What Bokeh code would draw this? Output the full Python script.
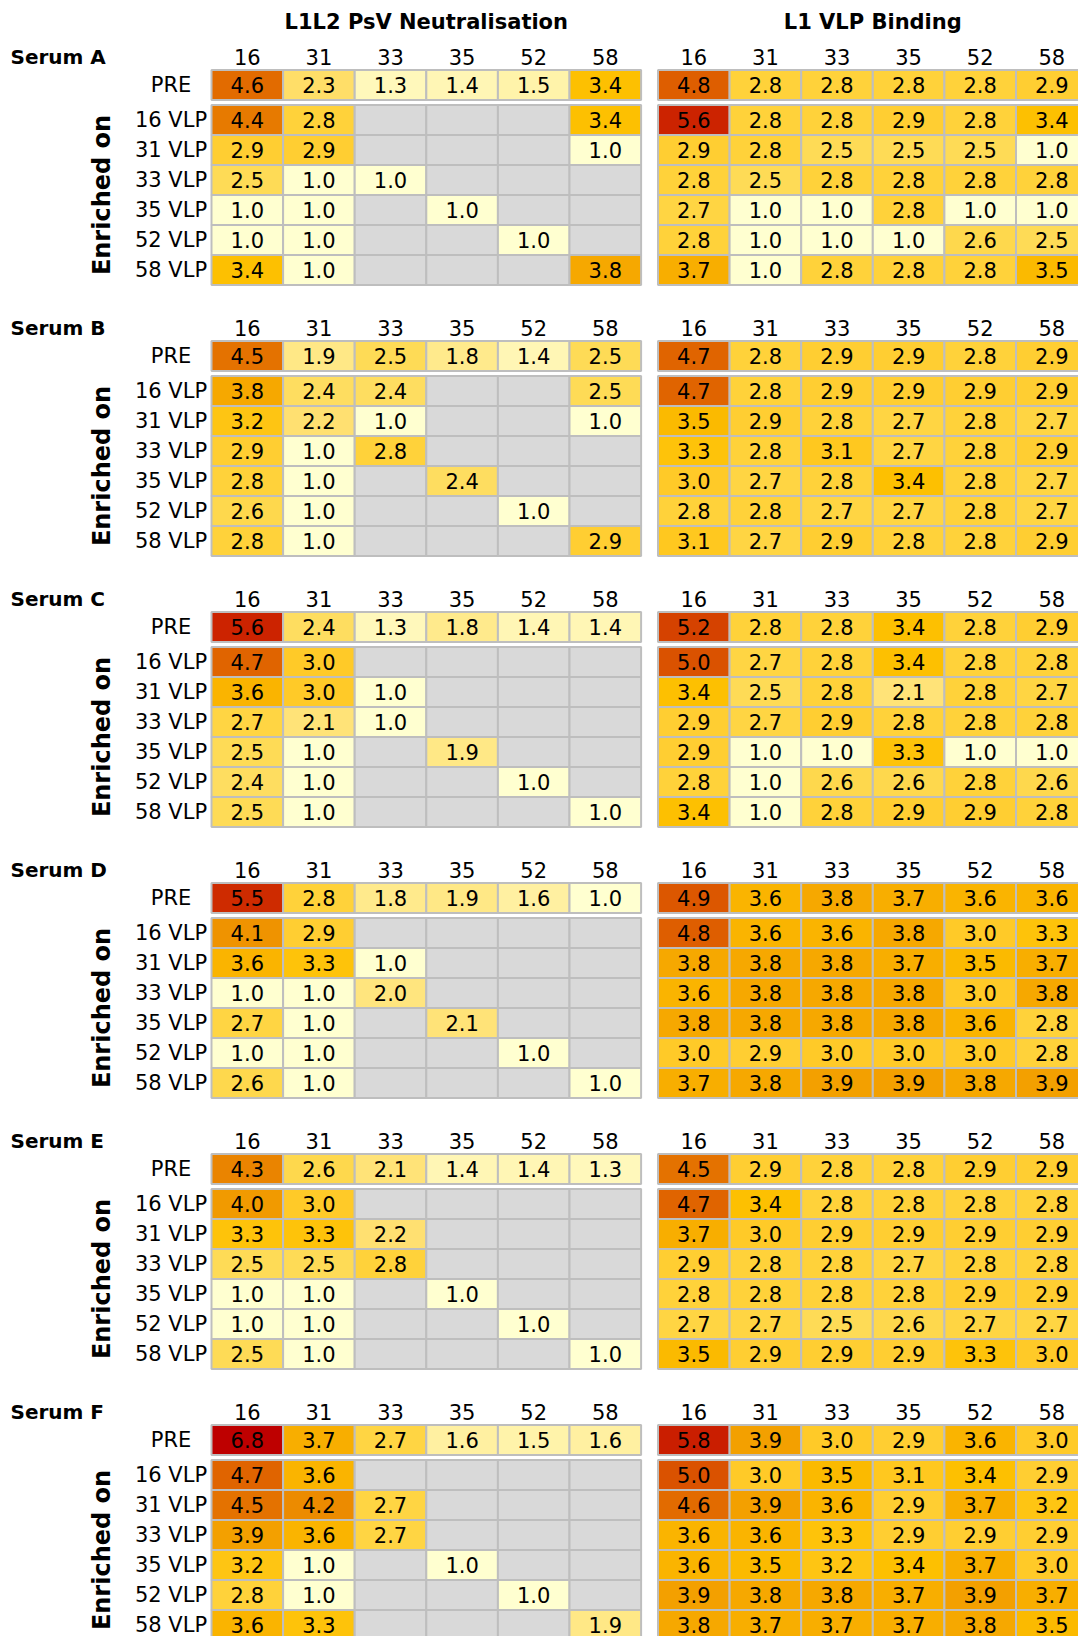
import math
import numpy as np
from bokeh.plotting import figure
from bokeh.models import ColumnDataSource, LinearColorMapper, Range1d
from bokeh.transform import transform
from bokeh.embed import file_html
from bokeh.resources import INLINE
from bokeh.core.properties import value

# ---------------- data ----------------
TYPES = ["16", "31", "33", "35", "52", "58"]
ROWS = ["PRE", "16 VLP", "31 VLP", "33 VLP", "35 VLP", "52 VLP", "58 VLP"]
SERA = ["Serum A", "Serum B", "Serum C", "Serum D", "Serum E", "Serum F"]
PANELS = ["L1L2 PsV Neutralisation", "L1 VLP Binding"]
N = None

NEUT_A = [[4.6, 2.3, 1.3, 1.4, 1.5, 3.4],
          [4.4, 2.8, N, N, N, 3.4],
          [2.9, 2.9, N, N, N, 1.0],
          [2.5, 1.0, 1.0, N, N, N],
          [1.0, 1.0, N, 1.0, N, N],
          [1.0, 1.0, N, N, 1.0, N],
          [3.4, 1.0, N, N, N, 3.8]]
BIND_A = [[4.8, 2.8, 2.8, 2.8, 2.8, 2.9],
          [5.6, 2.8, 2.8, 2.9, 2.8, 3.4],
          [2.9, 2.8, 2.5, 2.5, 2.5, 1.0],
          [2.8, 2.5, 2.8, 2.8, 2.8, 2.8],
          [2.7, 1.0, 1.0, 2.8, 1.0, 1.0],
          [2.8, 1.0, 1.0, 1.0, 2.6, 2.5],
          [3.7, 1.0, 2.8, 2.8, 2.8, 3.5]]
NEUT_B = [[4.5, 1.9, 2.5, 1.8, 1.4, 2.5],
          [3.8, 2.4, 2.4, N, N, 2.5],
          [3.2, 2.2, 1.0, N, N, 1.0],
          [2.9, 1.0, 2.8, N, N, N],
          [2.8, 1.0, N, 2.4, N, N],
          [2.6, 1.0, N, N, 1.0, N],
          [2.8, 1.0, N, N, N, 2.9]]
BIND_B = [[4.7, 2.8, 2.9, 2.9, 2.8, 2.9],
          [4.7, 2.8, 2.9, 2.9, 2.9, 2.9],
          [3.5, 2.9, 2.8, 2.7, 2.8, 2.7],
          [3.3, 2.8, 3.1, 2.7, 2.8, 2.9],
          [3.0, 2.7, 2.8, 3.4, 2.8, 2.7],
          [2.8, 2.8, 2.7, 2.7, 2.8, 2.7],
          [3.1, 2.7, 2.9, 2.8, 2.8, 2.9]]
NEUT_C = [[5.6, 2.4, 1.3, 1.8, 1.4, 1.4],
          [4.7, 3.0, N, N, N, N],
          [3.6, 3.0, 1.0, N, N, N],
          [2.7, 2.1, 1.0, N, N, N],
          [2.5, 1.0, N, 1.9, N, N],
          [2.4, 1.0, N, N, 1.0, N],
          [2.5, 1.0, N, N, N, 1.0]]
BIND_C = [[5.2, 2.8, 2.8, 3.4, 2.8, 2.9],
          [5.0, 2.7, 2.8, 3.4, 2.8, 2.8],
          [3.4, 2.5, 2.8, 2.1, 2.8, 2.7],
          [2.9, 2.7, 2.9, 2.8, 2.8, 2.8],
          [2.9, 1.0, 1.0, 3.3, 1.0, 1.0],
          [2.8, 1.0, 2.6, 2.6, 2.8, 2.6],
          [3.4, 1.0, 2.8, 2.9, 2.9, 2.8]]
NEUT_D = [[5.5, 2.8, 1.8, 1.9, 1.6, 1.0],
          [4.1, 2.9, N, N, N, N],
          [3.6, 3.3, 1.0, N, N, N],
          [1.0, 1.0, 2.0, N, N, N],
          [2.7, 1.0, N, 2.1, N, N],
          [1.0, 1.0, N, N, 1.0, N],
          [2.6, 1.0, N, N, N, 1.0]]
BIND_D = [[4.9, 3.6, 3.8, 3.7, 3.6, 3.6],
          [4.8, 3.6, 3.6, 3.8, 3.0, 3.3],
          [3.8, 3.8, 3.8, 3.7, 3.5, 3.7],
          [3.6, 3.8, 3.8, 3.8, 3.0, 3.8],
          [3.8, 3.8, 3.8, 3.8, 3.6, 2.8],
          [3.0, 2.9, 3.0, 3.0, 3.0, 2.8],
          [3.7, 3.8, 3.9, 3.9, 3.8, 3.9]]
NEUT_E = [[4.3, 2.6, 2.1, 1.4, 1.4, 1.3],
          [4.0, 3.0, N, N, N, N],
          [3.3, 3.3, 2.2, N, N, N],
          [2.5, 2.5, 2.8, N, N, N],
          [1.0, 1.0, N, 1.0, N, N],
          [1.0, 1.0, N, N, 1.0, N],
          [2.5, 1.0, N, N, N, 1.0]]
BIND_E = [[4.5, 2.9, 2.8, 2.8, 2.9, 2.9],
          [4.7, 3.4, 2.8, 2.8, 2.8, 2.8],
          [3.7, 3.0, 2.9, 2.9, 2.9, 2.9],
          [2.9, 2.8, 2.8, 2.7, 2.8, 2.8],
          [2.8, 2.8, 2.8, 2.8, 2.9, 2.9],
          [2.7, 2.7, 2.5, 2.6, 2.7, 2.7],
          [3.5, 2.9, 2.9, 2.9, 3.3, 3.0]]
NEUT_F = [[6.8, 3.7, 2.7, 1.6, 1.5, 1.6],
          [4.7, 3.6, N, N, N, N],
          [4.5, 4.2, 2.7, N, N, N],
          [3.9, 3.6, 2.7, N, N, N],
          [3.2, 1.0, N, 1.0, N, N],
          [2.8, 1.0, N, N, 1.0, N],
          [3.6, 3.3, N, N, N, 1.9]]
BIND_F = [[5.8, 3.9, 3.0, 2.9, 3.6, 3.0],
          [5.0, 3.0, 3.5, 3.1, 3.4, 2.9],
          [4.6, 3.9, 3.6, 2.9, 3.7, 3.2],
          [3.6, 3.6, 3.3, 2.9, 2.9, 2.9],
          [3.6, 3.5, 3.2, 3.4, 3.7, 3.0],
          [3.9, 3.8, 3.8, 3.7, 3.9, 3.7],
          [3.8, 3.7, 3.7, 3.7, 3.8, 3.5]]

NEUT = [NEUT_A, NEUT_B, NEUT_C, NEUT_D, NEUT_E, NEUT_F]
BIND = [BIND_A, BIND_B, BIND_C, BIND_D, BIND_E, BIND_F]

# ---------------- style / layout ----------------
FONT = "DejaVu Sans"
GRID = "#BEBEBE"
MISSING = "#D9D9D9"
COL_PITCH = 71.6
PANEL_X0 = [211.0, 657.5]
BLOCK_PITCH = 271.0
PRE_TOP = 69.5
ROW_TOP = 104.5
ROW_H = 30.0
HEADER_Y = 56.0
TITLE_Y = 21.0
LABEL_X = 170.5
ENRICH_X = 101.5

# colour ramp (light yellow -> orange -> dark red)
STOPS = [(1.0, "#FFFFD0"), (1.4, "#FFF6B4"), (1.8, "#FFEA8C"), (2.2, "#FFE070"),
         (2.5, "#FEDB56"), (2.8, "#FFD23A"), (3.0, "#FFCA28"), (3.4, "#FDC000"),
         (3.8, "#F6A800"), (4.2, "#EC8C00"), (4.6, "#E26A00"), (5.0, "#DA5200"),
         (5.6, "#CC2400"), (6.8, "#BE0000")]
LOW, HIGH = 1.0, 6.8


def hex2rgb(h):
    return [int(h[i:i + 2], 16) for i in (1, 3, 5)]


sv = np.array([s[0] for s in STOPS])
sc = np.array([hex2rgb(s[1]) for s in STOPS], dtype=float)
grid_v = np.linspace(LOW, HIGH, 256)
palette = []
for v in grid_v:
    rgb = [int(round(np.interp(v, sv, sc[:, k]))) for k in range(3)]
    palette.append("#%02X%02X%02X" % tuple(rgb))
mapper = LinearColorMapper(palette=palette, low=LOW, high=HIGH, nan_color=MISSING)

# ---------------- build sources ----------------
cx, cy, cval, ctxt = [], [], [], []
for b, serum in enumerate(SERA):
    for p_i, mats in enumerate([NEUT, BIND]):
        mat = mats[b]
        for r in range(len(ROWS)):
            top = (PRE_TOP if r == 0 else ROW_TOP + (r - 1) * ROW_H) + b * BLOCK_PITCH
            for c in range(len(TYPES)):
                v = mat[r][c]
                cx.append(PANEL_X0[p_i] + (c + 0.5) * COL_PITCH)
                cy.append(top + ROW_H / 2)
                cval.append(float("nan") if v is None else v)
                ctxt.append("" if v is None else "%.1f" % v)
cells = ColumnDataSource(dict(x=cx, y=cy, val=cval, label=ctxt))

hx, hy, ht = [], [], []
for b in range(len(SERA)):
    for p_i in range(2):
        for c, t in enumerate(TYPES):
            hx.append(PANEL_X0[p_i] + (c + 0.5) * COL_PITCH)
            hy.append(HEADER_Y + b * BLOCK_PITCH)
            ht.append(t)
heads = ColumnDataSource(dict(x=hx, y=hy, text=ht))

rx, ry, rt = [], [], []
for b in range(len(SERA)):
    for r, lab in enumerate(ROWS):
        top = (PRE_TOP if r == 0 else ROW_TOP + (r - 1) * ROW_H) + b * BLOCK_PITCH
        rx.append(LABEL_X)
        ry.append(top + ROW_H / 2)
        rt.append(lab)
rowlabs = ColumnDataSource(dict(x=rx, y=ry, text=rt))

sera_src = ColumnDataSource(dict(x=[10.0] * len(SERA),
                                 y=[HEADER_Y + b * BLOCK_PITCH for b in range(len(SERA))],
                                 text=SERA))
enr_src = ColumnDataSource(dict(x=[ENRICH_X] * len(SERA),
                                y=[ROW_TOP + 3 * ROW_H + b * BLOCK_PITCH for b in range(len(SERA))],
                                text=["Enriched on"] * len(SERA)))
title_src = ColumnDataSource(dict(x=[PANEL_X0[i] + 3 * COL_PITCH for i in range(2)],
                                  y=[TITLE_Y, TITLE_Y], text=PANELS))

# ---------------- figure ----------------
W, H = 1078, 1636
p = figure(width=W, height=H, x_range=Range1d(0, W), y_range=Range1d(H, 0),
           output_backend="svg", toolbar_location=None, min_border=0,
           x_axis_type=None, y_axis_type=None)
p.grid.visible = False
p.outline_line_color = None
p.background_fill_color = "white"
p.border_fill_color = "white"

p.rect(x="x", y="y", width=COL_PITCH, height=ROW_H, source=cells,
       fill_color=transform("val", mapper), line_color=GRID, line_width=2)
p.text(x="x", y="y", text="label", source=cells, text_align="center",
       text_baseline="middle", text_font=value(FONT), text_font_size="21px",
       text_color="black")
p.text(x="x", y="y", text="text", source=heads, text_align="center",
       text_baseline="middle", text_font=value(FONT), text_font_size="21px",
       text_color="black")
p.text(x="x", y="y", text="text", source=rowlabs, text_align="center",
       text_baseline="middle", text_font=value(FONT), text_font_size="21px",
       text_color="black")
p.text(x="x", y="y", text="text", source=sera_src, text_align="left",
       text_baseline="middle", text_font=value(FONT), text_font_size="20px",
       text_font_style="bold", text_color="black")
p.text(x="x", y="y", text="text", source=enr_src, text_align="center",
       text_baseline="middle", text_font=value(FONT), text_font_size="24px",
       text_font_style="bold", text_color="black", angle=math.pi / 2)
p.text(x="x", y="y", text="text", source=title_src, text_align="center",
       text_baseline="middle", text_font=value(FONT), text_font_size="21px",
       text_font_style="bold", text_color="black")

open("out.html", "w").write(file_html(p, INLINE))
